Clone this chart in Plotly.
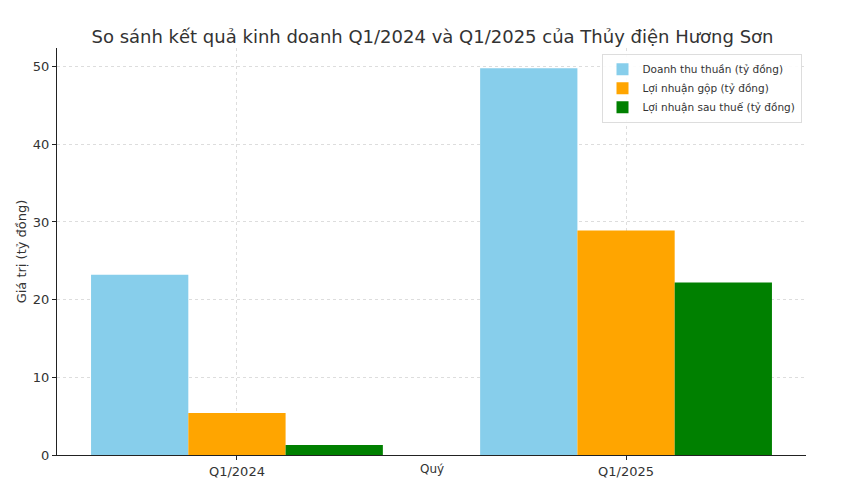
import plotly.graph_objects as go

categories = ["Q1/2024", "Q1/2025"]
series_names = ["Doanh thu thuần (tỷ đồng)", "Lợi nhuận gộp (tỷ đồng)", "Lợi nhuận sau thuế (tỷ đồng)"]
doanh_thu = [23.2, 49.8]
loi_nhuan_gop = [5.4, 28.9]
loi_nhuan_sau_thue = [1.3, 22.2]
colors = ["#87CEEB", "#FFA500", "#008000"]
y_ticks = [0, 10, 20, 30, 40, 50]

fig = go.Figure()
for name, vals, c in zip(series_names, [doanh_thu, loi_nhuan_gop, loi_nhuan_sau_thue], colors):
    fig.add_trace(go.Bar(x=[0, 1], y=vals, name=name, marker=dict(color=c, line=dict(width=0))))

font = "DejaVu Sans, sans-serif"
fig.update_layout(
    width=849, height=480,
    margin=dict(l=49, r=51, t=40, b=33, autoexpand=False),
    paper_bgcolor="white", plot_bgcolor="white",
    barmode="group", bargap=0.25, bargroupgap=0,
    font=dict(family=font, size=13, color="#333333"),
    title=dict(text="So sánh kết quả kinh doanh Q1/2024 và Q1/2025 của Thủy điện Hương Sơn",
               x=0.5, xanchor="center", y=0.9396, yanchor="middle",
               font=dict(size=18, color="#333333", family=font)),
    legend=dict(x=0.994, y=0.986, xanchor="right", yanchor="top",
                bgcolor="rgba(255,255,255,0.9)", bordercolor="#dddddd", borderwidth=1,
                font=dict(size=10.5, color="#333333"), tracegroupgap=0, itemwidth=30),
    showlegend=True,
    annotations=[dict(text="Quý", xref="paper", yref="paper", x=0.5, y=-0.0565,
                      xanchor="center", yanchor="bottom", showarrow=False,
                      font=dict(size=12, color="#333333"))],
)
fig.update_xaxes(
    tickmode="array", tickvals=[0, 1], ticktext=categories,
    range=[-0.4625, 1.4625], automargin=False,
    showline=True, linecolor="#222222", linewidth=1.2,
    ticks="outside", ticklen=4, tickcolor="#222222",
    showgrid=True, gridcolor="#dddddd", griddash="dot", gridwidth=1,
    zeroline=False,
)
fig.update_yaxes(
    range=[0, 52.4], tickvals=y_ticks, automargin=False,
    showline=True, linecolor="#222222", linewidth=1.2,
    ticks="outside", ticklen=4, tickcolor="#222222",
    showgrid=True, gridcolor="#dddddd", griddash="dot", gridwidth=1,
    title=dict(text="Giá trị (tỷ đồng)", standoff=3, font=dict(size=13)),
    zeroline=False,
)
fig.write_html("out.html")
